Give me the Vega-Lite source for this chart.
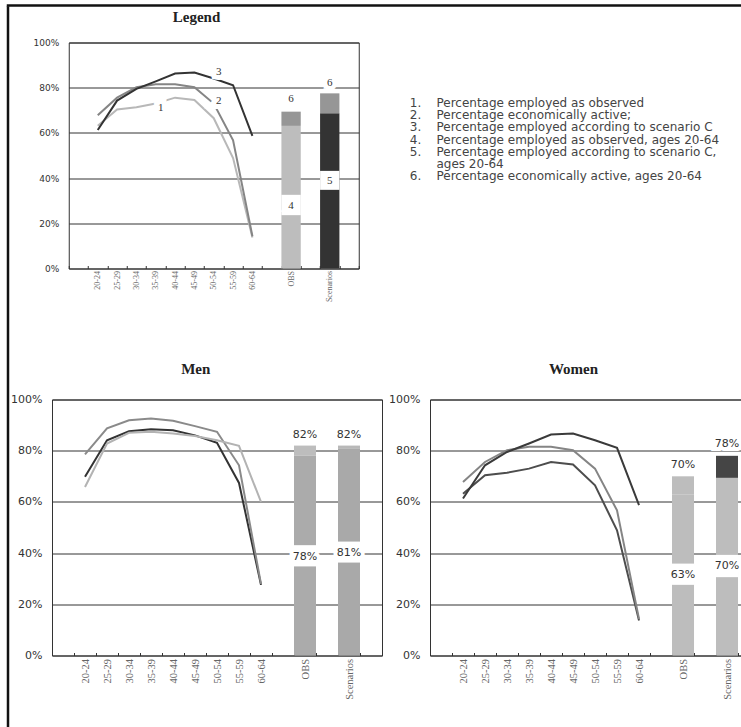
{
  "$schema": "https://vega.github.io/schema/vega-lite/v6.json",
  "background": "white",
  "padding": {"left": 6.5, "top": 4, "right": 0, "bottom": 0},
  "datasets": {
    "wlines": [
      {"cat": "20-24", "series": "observed", "value": 63.2}, {"cat": "25-29", "series": "observed", "value": 70.4}, {"cat": "30-34", "series": "observed", "value": 71.4}, {"cat": "35-39", "series": "observed", "value": 73.0}, {"cat": "40-44", "series": "observed", "value": 75.6}, {"cat": "45-49", "series": "observed", "value": 74.6}, {"cat": "50-54", "series": "observed", "value": 66.5}, {"cat": "55-59", "series": "observed", "value": 48.9}, {"cat": "60-64", "series": "observed", "value": 13.7},
      {"cat": "20-24", "series": "active", "value": 67.8}, {"cat": "25-29", "series": "active", "value": 75.6}, {"cat": "30-34", "series": "active", "value": 80.2}, {"cat": "35-39", "series": "active", "value": 81.5}, {"cat": "40-44", "series": "active", "value": 81.5}, {"cat": "45-49", "series": "active", "value": 80.2}, {"cat": "50-54", "series": "active", "value": 73.0}, {"cat": "55-59", "series": "active", "value": 56.7}, {"cat": "60-64", "series": "active", "value": 14.3},
      {"cat": "20-24", "series": "scenario", "value": 61.3}, {"cat": "25-29", "series": "scenario", "value": 74.3}, {"cat": "30-34", "series": "scenario", "value": 79.5}, {"cat": "35-39", "series": "scenario", "value": 82.8}, {"cat": "40-44", "series": "scenario", "value": 86.3}, {"cat": "45-49", "series": "scenario", "value": 86.7}, {"cat": "50-54", "series": "scenario", "value": 84.1}, {"cat": "55-59", "series": "scenario", "value": 81.1}, {"cat": "60-64", "series": "scenario", "value": 58.7}
    ],
    "mlines": [
      {"cat": "20-24", "series": "observed", "value": 69.8}, {"cat": "25-29", "series": "observed", "value": 84.1}, {"cat": "30-34", "series": "observed", "value": 87.6}, {"cat": "35-39", "series": "observed", "value": 88.4}, {"cat": "40-44", "series": "observed", "value": 88.0}, {"cat": "45-49", "series": "observed", "value": 86.0}, {"cat": "50-54", "series": "observed", "value": 83.1}, {"cat": "55-59", "series": "observed", "value": 67.4}, {"cat": "60-64", "series": "observed", "value": 27.6},
      {"cat": "20-24", "series": "active", "value": 78.6}, {"cat": "25-29", "series": "active", "value": 88.7}, {"cat": "30-34", "series": "active", "value": 91.9}, {"cat": "35-39", "series": "active", "value": 92.6}, {"cat": "40-44", "series": "active", "value": 91.7}, {"cat": "45-49", "series": "active", "value": 89.6}, {"cat": "50-54", "series": "active", "value": 87.4}, {"cat": "55-59", "series": "active", "value": 74.3}, {"cat": "60-64", "series": "active", "value": 28.0},
      {"cat": "20-24", "series": "scenario", "value": 65.8}, {"cat": "25-29", "series": "scenario", "value": 82.8}, {"cat": "30-34", "series": "scenario", "value": 87.0}, {"cat": "35-39", "series": "scenario", "value": 87.4}, {"cat": "40-44", "series": "scenario", "value": 86.7}, {"cat": "45-49", "series": "scenario", "value": 85.7}, {"cat": "50-54", "series": "scenario", "value": 84.1}, {"cat": "55-59", "series": "scenario", "value": 81.9}, {"cat": "60-64", "series": "scenario", "value": 60.0}
    ],
    "lbars": [
      {"cat": "OBS", "seg": "observed employed", "lo": 0, "hi": 63.1},
      {"cat": "OBS", "seg": "observed active", "lo": 63.1, "hi": 69.4},
      {"cat": "Scenarios", "seg": "scenario employed", "lo": 0, "hi": 68.7},
      {"cat": "Scenarios", "seg": "scenario active", "lo": 68.7, "hi": 77.5}
    ],
    "mbars": [
      {"cat": "OBS", "seg": "observed employed", "lo": 0, "hi": 78},
      {"cat": "OBS", "seg": "observed active", "lo": 78, "hi": 82},
      {"cat": "Scenarios", "seg": "scenario employed", "lo": 0, "hi": 81},
      {"cat": "Scenarios", "seg": "scenario active", "lo": 81, "hi": 82}
    ],
    "wbars": [
      {"cat": "OBS", "seg": "observed employed", "lo": 0, "hi": 63},
      {"cat": "OBS", "seg": "observed active", "lo": 63, "hi": 70},
      {"cat": "Scenarios", "seg": "scenario employed", "lo": 0, "hi": 69.4},
      {"cat": "Scenarios", "seg": "scenario active", "lo": 69.4, "hi": 78}
    ],
    "lgaps": [{"cat": "OBS", "lo": 23.6, "hi": 32.6}, {"cat": "Scenarios", "lo": 34.8, "hi": 43.2}],
    "mgaps": [{"cat": "OBS", "lo": 34.8, "hi": 43.1}, {"cat": "Scenarios", "lo": 36.3, "hi": 44.5}],
    "wgaps": [{"cat": "OBS", "lo": 27.6, "hi": 35.9}, {"cat": "Scenarios", "lo": 30.6, "hi": 39.3}],
    "llinelabels": [{"cat": "35-39", "y": 70.8, "text": "1"}, {"cat": "50-54", "y": 74.2, "text": "2"}, {"cat": "50-54", "y": 87.0, "text": "3"}],
    "lbarlabels": [{"cat": "OBS", "y": 74.9, "text": "6"}, {"cat": "Scenarios", "y": 81.9, "text": "6"}, {"cat": "OBS", "y": 27.7, "text": "4"}, {"cat": "Scenarios", "y": 38.5, "text": "5"}],
    "mlabels": [{"cat": "OBS", "y": 86.3, "text": "82%"}, {"cat": "Scenarios", "y": 86.3, "text": "82%"}, {"cat": "OBS", "y": 38.5, "text": "78%"}, {"cat": "Scenarios", "y": 40.2, "text": "81%"}],
    "wlabels": [{"cat": "OBS", "y": 74.3, "text": "70%"}, {"cat": "Scenarios", "y": 82.8, "text": "78%"}, {"cat": "OBS", "y": 31.3, "text": "63%"}, {"cat": "Scenarios", "y": 34.8, "text": "70%"}],
    "legendtext": [
      {"row": 1, "num": "1.", "label": "Percentage employed as observed"},
      {"row": 2, "num": "2.", "label": "Percentage economically active;"},
      {"row": 3, "num": "3.", "label": "Percentage employed according to scenario C"},
      {"row": 4, "num": "4.", "label": "Percentage employed as observed, ages 20-64"},
      {"row": 5, "num": "5.", "label": "Percentage employed according to scenario C,"},
      {"row": 6, "num": "", "label": " ages 20-64"},
      {"row": 7, "num": "6.", "label": "Percentage economically active, ages 20-64"}
    ]
  },
  "spacing": -1,
  "resolve": {"scale": {"stroke": "independent", "fill": "independent"}},
  "vconcat": [
    {
      "width": 733, "height": 1,
      "view": {"stroke": "#111111", "strokeWidth": 1.5},
      "data": {"values": []},
      "mark": {"type": "point", "opacity": 0},
      "encoding": {}
    },
    {
      "spacing": -1.5,
      "resolve": {"scale": {"stroke": "independent", "fill": "independent"}},
      "hconcat": [
        {
          "width": 1, "height": 721,
          "view": {"stroke": "#111111", "strokeWidth": 1.5},
          "data": {"values": []},
          "mark": {"type": "point", "opacity": 0},
          "encoding": {}
        },
        {
          "spacing": 1.5,
          "resolve": {"scale": {"stroke": "independent", "fill": "independent"}},
          "vconcat": [
            {
              "width": 1, "height": 1,
              "view": {"stroke": null},
              "data": {"values": []},
              "mark": {"type": "point", "opacity": 0},
              "encoding": {}
            },
            {
              "spacing": 47,
              "resolve": {"scale": {"stroke": "independent", "fill": "independent"}},
              "vconcat": [
                {
                  "spacing": -44.25,
                  "resolve": {"scale": {"stroke": "independent", "fill": "independent"}},
                  "hconcat": [
                    {
                      "width": 1, "height": 1,
                      "view": {"stroke": null},
                      "data": {"values": []},
                      "mark": {"type": "point", "opacity": 0},
                      "encoding": {}
                    },
                    {
                      "spacing": 50,
                      "resolve": {"scale": {"stroke": "independent", "fill": "independent"}},
                      "hconcat": [
                        {
                          "width": 290, "height": 226,
                          "title": {"text": "Legend", "offset": 13.3, "dx": 12},
                          "layer": [
                            {
                              "data": {"name": "wlines"},
                              "mark": {"type": "line", "strokeWidth": 2},
                              "encoding": {
                                "x": {"field": "cat", "type": "nominal", "bandPosition": 0.5, "title": null,
                                      "scale": {"type": "band", "domain": ["_a","20-24","25-29","30-34","35-39","40-44","45-49","50-54","55-59","60-64","_b","OBS","_c","Scenarios","_d"], "paddingInner": 0, "paddingOuter": 0},
                                      "axis": {"labelExpr": "indexof(datum.label, '_') == 0 ? '' : datum.label", "labelFontSize": 8, "labelPadding": 5, "minExtent": 45, "maxExtent": 45}},
                                "y": {"field": "value", "type": "quantitative", "title": null, "scale": {"domain": [0, 100]},
                                      "axis": {"values": [0, 20, 40, 60, 80, 100], "labelExpr": "datum.value + '%'", "labelFontSize": 9, "minExtent": 59, "maxExtent": 59}},
                                "stroke": {"field": "series", "type": "nominal", "scale": {"domain": ["observed", "active", "scenario"], "range": ["#b8b8b8", "#858585", "#333333"]}, "legend": null}
                              }
                            },
                            {
                              "data": {"name": "lbars"},
                              "mark": {"type": "bar"},
                              "encoding": {
                                "x": {"field": "cat", "type": "nominal", "title": null},
                                "y": {"field": "lo", "type": "quantitative", "title": null},
                                "y2": {"field": "hi"},
                                "fill": {"field": "seg", "type": "nominal", "scale": {"domain": ["observed employed", "observed active", "scenario employed", "scenario active"], "range": ["#bdbdbd", "#969696", "#333333", "#969696"]}, "legend": null}
                              }
                            },
                            {
                              "data": {"name": "lgaps"},
                              "mark": {"type": "bar", "fill": "white"},
                              "encoding": {
                                "x": {"field": "cat", "type": "nominal", "title": null},
                                "y": {"field": "lo", "type": "quantitative", "title": null},
                                "y2": {"field": "hi"}
                              }
                            },
                            {
                              "data": {"name": "llinelabels"},
                              "encoding": {
                                "x": {"field": "cat", "type": "nominal", "bandPosition": 0.5, "title": null},
                                "y": {"field": "y", "type": "quantitative", "title": null},
                                "text": {"field": "text"}
                              },
                              "layer": [
                                {"mark": {"type": "text", "dx": 5, "font": "Liberation Serif", "fontSize": 11, "fill": "white", "stroke": "white", "strokeWidth": 10}},
                                {"mark": {"type": "text", "dx": 5, "font": "Liberation Serif", "fontSize": 11, "fill": "#333333"}}
                              ]
                            },
                            {
                              "data": {"name": "lbarlabels"},
                              "encoding": {
                                "x": {"field": "cat", "type": "nominal", "bandPosition": 0.5, "title": null},
                                "y": {"field": "y", "type": "quantitative", "title": null},
                                "text": {"field": "text"}
                              },
                              "layer": [
                                {"mark": {"type": "text", "font": "Liberation Serif", "fontSize": 11, "fill": "white", "stroke": "white", "strokeWidth": 9}},
                                {"mark": {"type": "text", "font": "Liberation Serif", "fontSize": 11, "fill": "#333333"}}
                              ]
                            }
                          ]
                        },
                        {
                          "width": 330, "height": 226,
                          "view": {"stroke": null},
                          "data": {"name": "legendtext"},
                          "encoding": {
                            "y": {"field": "row", "type": "quantitative", "scale": {"domain": [-4.01, 14.64], "reverse": true, "nice": false, "zero": false}, "axis": null},
                            "x": {"datum": 0, "type": "quantitative", "scale": {"domain": [0, 1], "nice": false}, "axis": null},
                            "text": {"field": "num"}
                          },
                          "layer": [
                            {"mark": {"type": "text", "align": "left", "baseline": "middle", "font": "DejaVu Sans", "fontSize": 12, "fill": "#444444"}},
                            {"mark": {"type": "text", "align": "left", "baseline": "middle", "dx": 26.7, "font": "DejaVu Sans", "fontSize": 12, "fill": "#444444"}, "encoding": {"text": {"field": "label"}}}
                          ]
                        }
                      ]
                    }
                  ]
                },
                {
                  "spacing": 3,
                  "resolve": {"scale": {"stroke": "independent", "fill": "independent"}},
                  "hconcat": [
                    {
                      "width": 330, "height": 256,
                      "title": {"text": "Men", "offset": 16.5},
                      "layer": [
                        {
                          "data": {"name": "mlines"},
                          "mark": {"type": "line", "strokeWidth": 2},
                          "encoding": {
                            "x": {"field": "cat", "type": "nominal", "bandPosition": 0.5, "title": null,
                                  "scale": {"type": "band", "domain": ["_a","20-24","25-29","30-34","35-39","40-44","45-49","50-54","55-59","60-64","_b","OBS","_c","Scenarios","_d"], "paddingInner": 0, "paddingOuter": 0},
                                  "axis": {"labelExpr": "indexof(datum.label, '_') == 0 ? '' : datum.label"}},
                            "y": {"field": "value", "type": "quantitative", "title": null, "scale": {"domain": [0, 100]},
                                  "axis": {"values": [0, 20, 40, 60, 80, 100], "labelExpr": "datum.value + '%'"}},
                            "stroke": {"field": "series", "type": "nominal", "scale": {"domain": ["observed", "active", "scenario"], "range": ["#333333", "#8a8a8a", "#b3b3b3"]}, "legend": null}
                          }
                        },
                        {
                          "data": {"name": "mbars"},
                          "mark": {"type": "bar"},
                          "encoding": {
                            "x": {"field": "cat", "type": "nominal", "title": null},
                            "y": {"field": "lo", "type": "quantitative", "title": null},
                            "y2": {"field": "hi"},
                            "fill": {"field": "seg", "type": "nominal", "scale": {"domain": ["observed employed", "observed active", "scenario employed", "scenario active"], "range": ["#ababab", "#bdbdbd", "#a9a9a9", "#b8b8b8"]}, "legend": null}
                          }
                        },
                        {
                          "data": {"name": "mgaps"},
                          "mark": {"type": "bar", "fill": "white"},
                          "encoding": {
                            "x": {"field": "cat", "type": "nominal", "title": null},
                            "y": {"field": "lo", "type": "quantitative", "title": null},
                            "y2": {"field": "hi"}
                          }
                        },
                        {
                          "data": {"name": "mlabels"},
                          "encoding": {
                            "x": {"field": "cat", "type": "nominal", "bandPosition": 0.5, "title": null},
                            "y": {"field": "y", "type": "quantitative", "title": null},
                            "text": {"field": "text"}
                          },
                          "layer": [
                            {"mark": {"type": "text", "font": "DejaVu Sans", "fontSize": 11, "fill": "white", "stroke": "white", "strokeWidth": 8}},
                            {"mark": {"type": "text", "font": "DejaVu Sans", "fontSize": 11, "fill": "#333333"}}
                          ]
                        }
                      ]
                    },
                    {
                      "width": 314, "height": 256,
                      "title": {"text": "Women", "offset": 16.5, "dx": 8},
                      "layer": [
                        {
                          "data": {"name": "wlines"},
                          "mark": {"type": "line", "strokeWidth": 2},
                          "encoding": {
                            "x": {"field": "cat", "type": "nominal", "bandPosition": 0.5, "title": null,
                                  "scale": {"type": "band", "domain": ["_a","20-24","25-29","30-34","35-39","40-44","45-49","50-54","55-59","60-64","_b","OBS","_c","Scenarios"], "paddingInner": 0, "paddingOuter": 0.136, "align": 0},
                                  "axis": {"labelExpr": "indexof(datum.label, '_') == 0 ? '' : datum.label"}},
                            "y": {"field": "value", "type": "quantitative", "title": null, "scale": {"domain": [0, 100]},
                                  "axis": {"values": [0, 20, 40, 60, 80, 100], "labelExpr": "datum.value + '%'"}},
                            "stroke": {"field": "series", "type": "nominal", "scale": {"domain": ["observed", "active", "scenario"], "range": ["#4d4d4d", "#858585", "#3a3a3a"]}, "legend": null}
                          }
                        },
                        {
                          "data": {"name": "wbars"},
                          "mark": {"type": "bar"},
                          "encoding": {
                            "x": {"field": "cat", "type": "nominal", "title": null},
                            "y": {"field": "lo", "type": "quantitative", "title": null},
                            "y2": {"field": "hi"},
                            "fill": {"field": "seg", "type": "nominal", "scale": {"domain": ["observed employed", "observed active", "scenario employed", "scenario active"], "range": ["#bdbdbd", "#bdbdbd", "#bdbdbd", "#454545"]}, "legend": null}
                          }
                        },
                        {
                          "data": {"name": "wgaps"},
                          "mark": {"type": "bar", "fill": "white"},
                          "encoding": {
                            "x": {"field": "cat", "type": "nominal", "title": null},
                            "y": {"field": "lo", "type": "quantitative", "title": null},
                            "y2": {"field": "hi"}
                          }
                        },
                        {
                          "data": {"name": "wlabels"},
                          "encoding": {
                            "x": {"field": "cat", "type": "nominal", "bandPosition": 0.5, "title": null},
                            "y": {"field": "y", "type": "quantitative", "title": null},
                            "text": {"field": "text"}
                          },
                          "layer": [
                            {"mark": {"type": "text", "font": "DejaVu Sans", "fontSize": 11, "fill": "white", "stroke": "white", "strokeWidth": 8}},
                            {"mark": {"type": "text", "font": "DejaVu Sans", "fontSize": 11, "fill": "#333333"}}
                          ]
                        }
                      ]
                    }
                  ]
                }
              ]
            }
          ]
        }
      ]
    }
  ],
  "config": {
    "view": {"stroke": "#333333", "strokeWidth": 1},
    "axisX": {"domain": false, "grid": false, "tickBand": "extent", "tickSize": -3, "tickColor": "#333333", "labelAngle": 270, "labelFont": "Liberation Serif", "labelFontSize": 10.5, "labelColor": "#666666", "labelPadding": 6, "minExtent": 50, "maxExtent": 50},
    "axisY": {"domain": false, "grid": true, "gridColor": "#333333", "gridWidth": 1, "ticks": false, "labelPadding": 10, "labelFont": "DejaVu Sans", "labelFontSize": 11, "labelColor": "#333333", "minExtent": 43, "maxExtent": 43},
    "title": {"font": "Liberation Serif", "fontSize": 15, "fontWeight": "bold", "color": "#222222", "anchor": "middle", "frame": "bounds", "baseline": "alphabetic"}
  }
}
